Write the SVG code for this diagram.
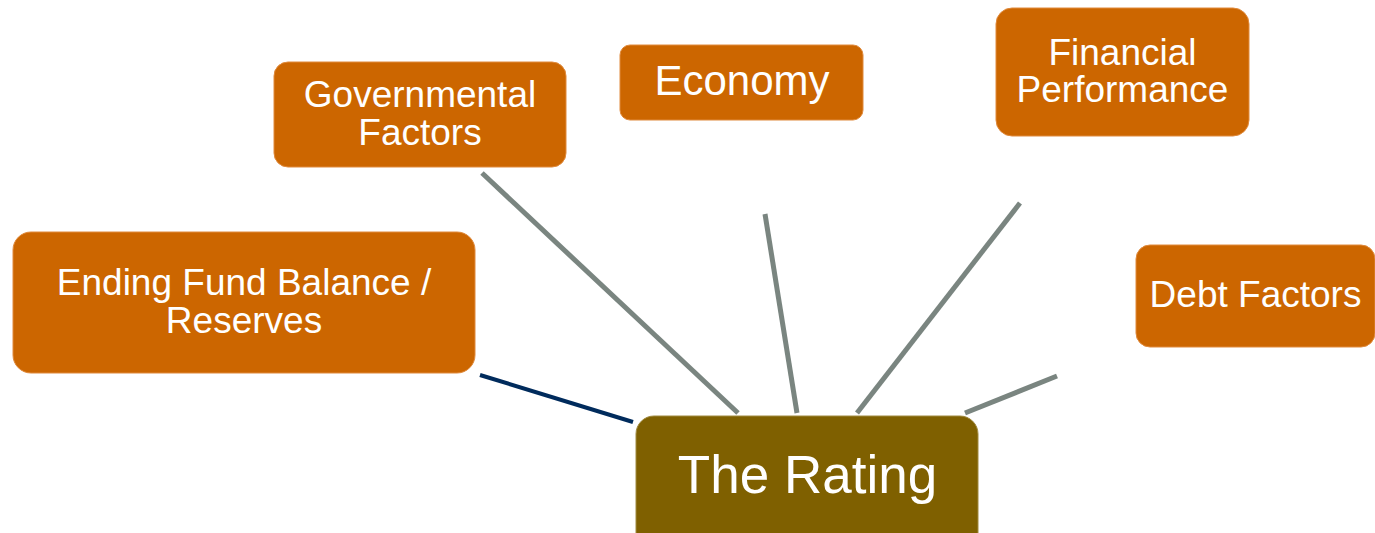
<svg xmlns="http://www.w3.org/2000/svg" width="1375" height="533" viewBox="0 0 1375 533">
<style>
.box{fill:#CC6600;stroke:#E08A3C;stroke-width:1}
.main{fill:#7F6000;stroke:#A08A40;stroke-width:1}
.t{font-family:"Liberation Sans",Arial,sans-serif;fill:#FFFFFF;text-anchor:middle}
.c{stroke:#7A8580;stroke-width:5;fill:none}
.n{stroke:#002B5C;stroke-width:4;fill:none}
</style>
<rect width="1375" height="533" fill="#FFFFFF"/>
<g id="connectors">
<line class="n" x1="480" y1="375" x2="633" y2="422"/>
<line class="c" x1="482" y1="173" x2="738" y2="413"/>
<line class="c" x1="765" y1="214" x2="797" y2="413"/>
<line class="c" x1="1020" y1="203" x2="857" y2="413"/>
<line class="c" x1="1057" y1="376" x2="965" y2="413"/>
</g>
<g id="ending-fund-balance">
<rect class="box" x="13" y="232" width="462" height="141" rx="18"/>
<text class="t" font-size="37" x="244" y="295">Ending Fund Balance /</text>
<text class="t" font-size="37" x="244" y="333">Reserves</text>
</g>
<g id="governmental-factors">
<rect class="box" x="274" y="62" width="292" height="105" rx="14"/>
<text class="t" font-size="37" x="420" y="107">Governmental</text>
<text class="t" font-size="37" x="420" y="145">Factors</text>
</g>
<g id="economy">
<rect class="box" x="620" y="45" width="243" height="75" rx="10"/>
<text class="t" font-size="42" x="742" y="95">Economy</text>
</g>
<g id="financial-performance">
<rect class="box" x="996" y="8" width="253" height="128" rx="16"/>
<text class="t" font-size="37" x="1122.5" y="65">Financial</text>
<text class="t" font-size="37" x="1122.5" y="102">Performance</text>
</g>
<g id="debt-factors">
<rect class="box" x="1136" y="245" width="239" height="102" rx="14"/>
<text class="t" font-size="37" x="1255.5" y="307">Debt Factors</text>
</g>
<g id="the-rating">
<rect class="main" x="636" y="416" width="342" height="140" rx="18"/>
<text class="t" font-size="53" x="807.5" y="493">The Rating</text>
</g>
</svg>
